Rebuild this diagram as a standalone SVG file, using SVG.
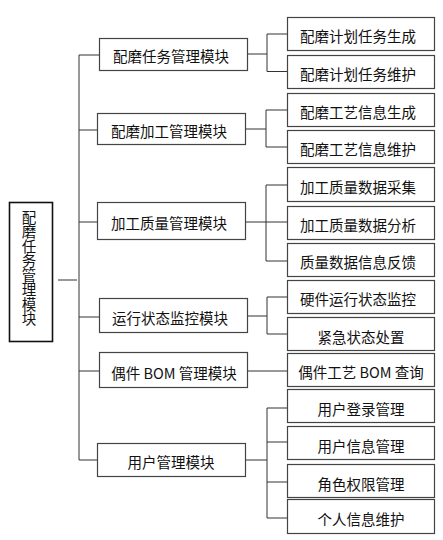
<svg xmlns="http://www.w3.org/2000/svg" width="443" height="540" viewBox="0 0 443 540">
<style>
.box{fill:#fff;stroke:#444;stroke-width:1.2}
.root{fill:#fff;stroke:#111;stroke-width:1.6}
.t{font-family:"Noto Sans CJK SC","Noto Sans",sans-serif;font-size:14.5px;fill:#111;text-anchor:middle;dominant-baseline:central}
.v{writing-mode:vertical-rl;text-orientation:upright}
.c{fill:none;stroke:#333;stroke-width:1}
</style>
<rect width="443" height="540" fill="#fff"/>
<g id="connectors">
<path class="c" d="M58 280H77M79 55V460M79 55H99M79 130H97M79 222H97M79 317H99M79 371H99M79 460H97"/>
<path class="c" d="M247 54H267M267 34V71.5M267 34H287M267 71.5H287"/>
<path class="c" d="M245 129H266M266 110V147M266 110H287M266 147H287"/>
<path class="c" d="M246 222H287M266 185V261M266 185H287M266 261H287"/>
<path class="c" d="M247 316H267M267 297V334M267 297H287M267 334H287"/>
<path class="c" d="M247 371H287"/>
<path class="c" d="M246 460H267M267 408V518M267 408H287M267 442H287M267 482H287M267 518H287"/>
</g>
<g id="root"><rect class="root" x="9.5" y="202.5" width="43" height="139"/>
<text class="t v" x="29" y="268">配磨任务管理模块</text></g>
<g id="m1"><rect class="box" x="99.5" y="38.5" width="148" height="32"/><text class="t" x="171" y="55">配磨任务管理模块</text></g>
<g id="m2"><rect class="box" x="97.5" y="113.5" width="148" height="31"/><text class="t" x="169" y="130">配磨加工管理模块</text></g>
<g id="m3"><rect class="box" x="97.5" y="202.5" width="148" height="37"/><text class="t" x="169" y="222">加工质量管理模块</text></g>
<g id="m4"><rect class="box" x="99.5" y="298.5" width="148" height="34"/><text class="t" x="170" y="317">运行状态监控模块</text></g>
<g id="m5"><rect class="box" x="99.5" y="352.5" width="148" height="35"/><text class="t" x="174" y="372">偶件 BOM 管理模块</text></g>
<g id="m6"><rect class="box" x="97.5" y="443.5" width="148" height="33"/><text class="t" x="171" y="461">用户管理模块</text></g>
<g id="s1"><rect class="box" x="287.5" y="17.5" width="147" height="33"/><text class="t" x="358" y="35">配磨计划任务生成</text></g>
<g id="s2"><rect class="box" x="287.5" y="55.5" width="147" height="33"/><text class="t" x="358" y="73">配磨计划任务维护</text></g>
<g id="s3"><rect class="box" x="287.5" y="93.5" width="147" height="33"/><text class="t" x="358" y="111">配磨工艺信息生成</text></g>
<g id="s4"><rect class="box" x="287.5" y="130.5" width="147" height="33"/><text class="t" x="358" y="148">配磨工艺信息维护</text></g>
<g id="s5"><rect class="box" x="287.5" y="167.5" width="147" height="34"/><text class="t" x="358" y="186">加工质量数据采集</text></g>
<g id="s6"><rect class="box" x="287.5" y="206.5" width="147" height="33"/><text class="t" x="358" y="224">加工质量数据分析</text></g>
<g id="s7"><rect class="box" x="287.5" y="243.5" width="147" height="33"/><text class="t" x="358" y="261">质量数据信息反馈</text></g>
<g id="s8"><rect class="box" x="287.5" y="280.5" width="147" height="33"/><text class="t" x="358" y="298">硬件运行状态监控</text></g>
<g id="s9"><rect class="box" x="287.5" y="317.5" width="147" height="33"/><text class="t" x="361" y="336">紧急状态处置</text></g>
<g id="s10"><rect class="box" x="287.5" y="353.5" width="147" height="33"/><text class="t" x="361" y="371">偶件工艺 BOM 查询</text></g>
<g id="s11"><rect class="box" x="287.5" y="389.5" width="147" height="33"/><text class="t" x="361" y="408">用户登录管理</text></g>
<g id="s12"><rect class="box" x="287.5" y="426.5" width="147" height="33"/><text class="t" x="361" y="445">用户信息管理</text></g>
<g id="s13"><rect class="box" x="287.5" y="464.5" width="147" height="33"/><text class="t" x="361" y="483">角色权限管理</text></g>
<g id="s14"><rect class="box" x="287.5" y="499.5" width="147" height="34"/><text class="t" x="361" y="518">个人信息维护</text></g>
</svg>
